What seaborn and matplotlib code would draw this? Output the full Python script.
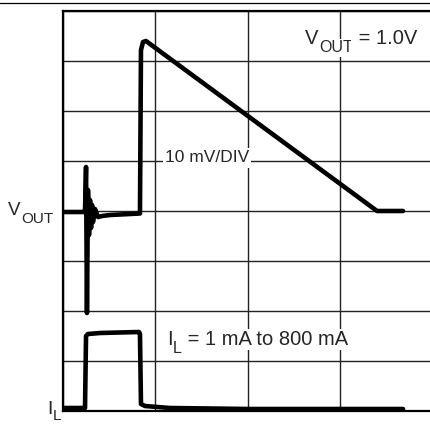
import numpy as np
import pandas as pd
import matplotlib
matplotlib.use("Agg")
import matplotlib.pyplot as plt
from matplotlib.lines import Line2D
import seaborn as sns

# time axis in divisions (4 DIV wide), amplitude in divisions (8 DIV tall)
vout_t = [0.00, 0.227, 0.238, 0.249, 0.259, 0.270, 0.281, 0.292, 0.303, 0.314,
          0.324, 0.346, 0.378, 0.422, 0.508, 0.832, 0.843, 0.865, 0.897, 0.941,
          3.395, 3.676]
vout_y = [3.98, 3.98, 4.00, 4.88, 1.96, 4.42, 3.52, 4.22, 3.66, 4.12,
          3.78, 4.04, 3.88, 3.90, 3.92, 3.95, 7.22, 7.38, 7.40, 7.34,
          4.00, 4.00]

il_t = [0.00, 0.238, 0.249, 0.270, 0.400, 0.822, 0.832, 0.843, 0.886, 1.157,
        2.020, 3.676]
il_y = [0.06, 0.06, 1.50, 1.54, 1.56, 1.58, 1.54, 0.14, 0.10, 0.06,
        0.04, 0.04]

sns.set_theme(style="white")
plt.rcParams["font.family"] = ["Liberation Sans", "DejaVu Sans"]

fig = plt.figure(figsize=(4.31, 4.25), dpi=100)
ax = fig.add_axes([63 / 431, 14 / 425, 370 / 431, 400 / 425])

sns.lineplot(x=vout_t, y=vout_y, sort=False, estimator=None, color="black",
             lw=3.3, ax=ax, zorder=4)
sns.lineplot(x=il_t, y=il_y, sort=False, estimator=None, color="black",
             lw=3.3, ax=ax, zorder=4)

ax.set_xlim(0, 4)
ax.set_ylim(0, 8)
ax.set_xticks(np.arange(0, 5, 1))
ax.set_yticks(np.arange(0, 9, 1))
ax.grid(True, color="#222222", lw=1.0)
ax.tick_params(length=0, labelbottom=False, labelleft=False)
for side in ["left", "top", "bottom"]:
    ax.spines[side].set_color("black")
    ax.spines[side].set_linewidth(1.6)
ax.spines["right"].set_visible(False)


def sub_label(x, y, base, sub, rest="", size=14.5, subsize=11.5, drop=5.2,
              box=None):
    # base text, subscript dropped below baseline, then the rest on the baseline
    t = ax.text(x, y, base, fontsize=size, ha="left", va="baseline",
                bbox=box, zorder=3, clip_on=False)
    s = ax.annotate(sub, xy=(1, 0), xycoords=t, xytext=(0.4, -drop),
                    textcoords="offset points", fontsize=subsize,
                    ha="left", va="bottom", bbox=box, zorder=3)
    if rest:
        ax.annotate(rest, xy=(1, 0), xycoords=(s, t), xytext=(0, 0),
                    textcoords="offset points", fontsize=size,
                    ha="left", va="bottom", bbox=box, zorder=3)


box = dict(facecolor="white", edgecolor="none", pad=1.0)
sub_label(2.616, 7.34, "V", "OUT", " = 1.0V", box=box)
sub_label(1.124, 1.32, "I", "L", " = 1 mA to 800 mA", box=box)
sub_label(-0.595, 3.92, "V", "OUT", size=13.5, subsize=11)
sub_label(-0.173, -0.06, "I", "L", size=14, subsize=11, drop=3.5)
ax.text(1.10, 5.06, "10 mV/DIV", fontsize=12.5, ha="left", va="center",
        bbox=dict(facecolor="white", edgecolor="none", pad=1.5), zorder=3)

# thin rule across the top of the page
fig.add_artist(Line2D([0, 1], [1 - 3 / 425, 1 - 3 / 425], color="black",
                      lw=0.9, transform=fig.transFigure))

fig.savefig("out.png", dpi=100)
